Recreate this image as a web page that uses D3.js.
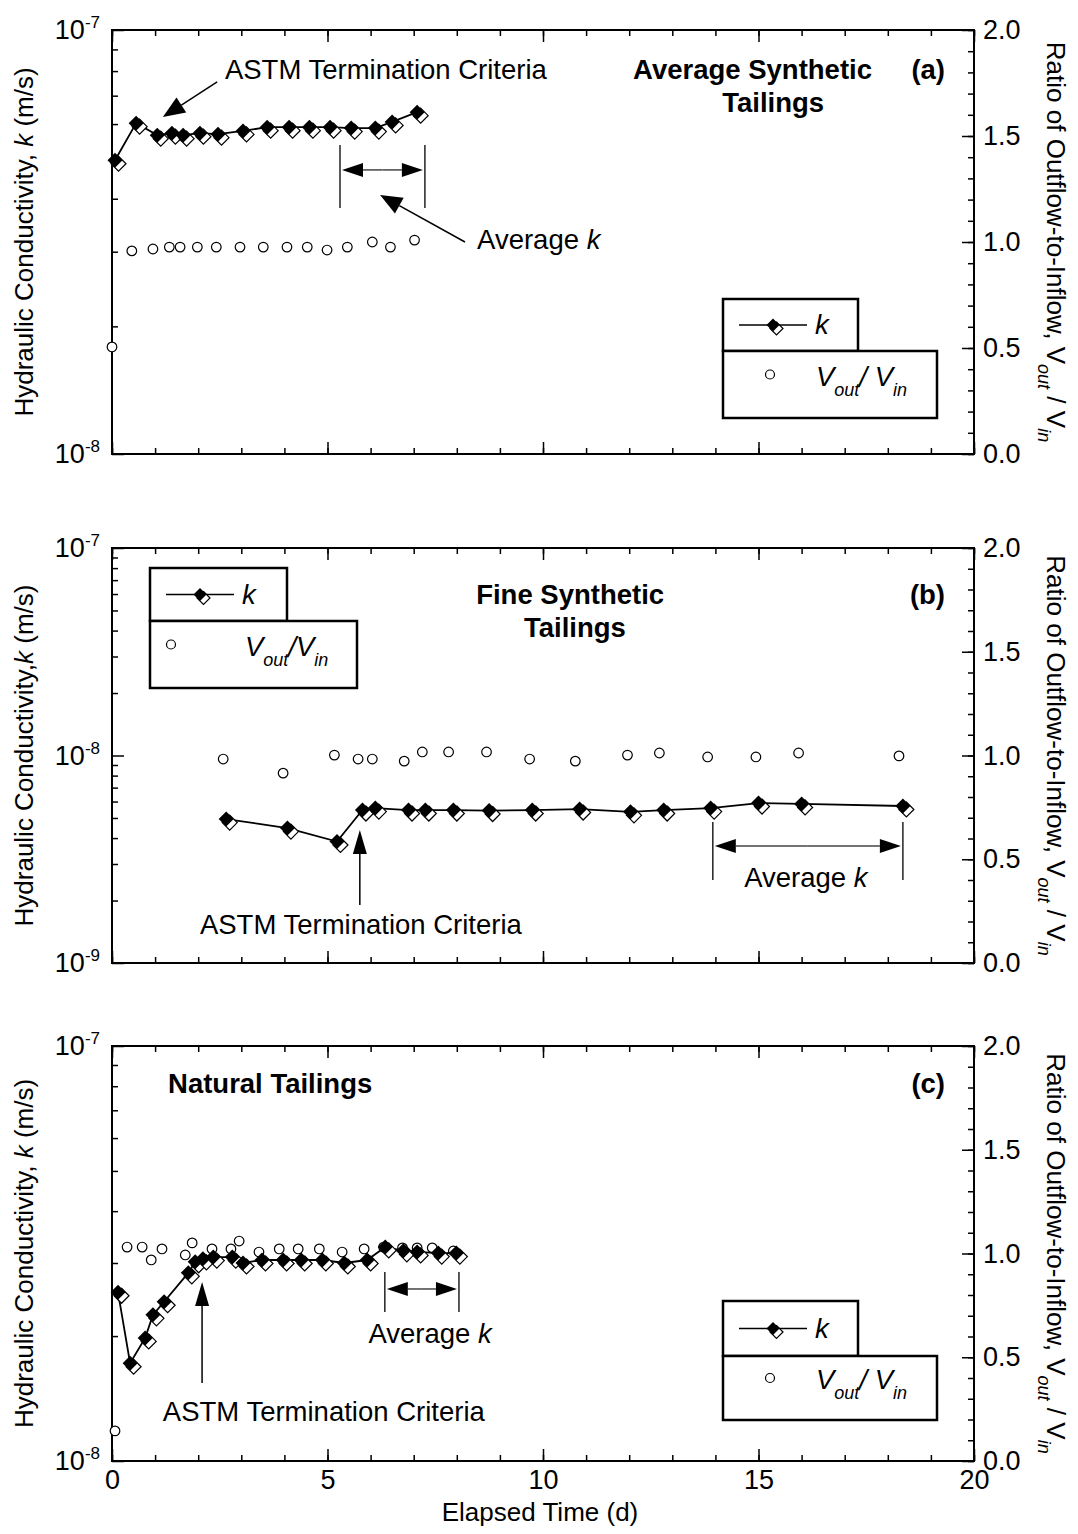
<!DOCTYPE html>
<html><head><meta charset="utf-8">
<script src="https://cdn.jsdelivr.net/npm/d3@7"></script>
<style>
body{margin:0;background:#fff}
svg{display:block}
text{font-family:"Liberation Sans",Arial,Helvetica,sans-serif;fill:#000}
</style>
</head><body>
<svg id="chart" width="1078" height="1534"></svg>
<script>
// ---------------- DATA ----------------
// Panel (a) Average Synthetic Tailings
const aKDays  = [0.07,0.56,1.05,1.39,1.65,2.04,2.46,3.04,3.60,4.11,4.58,5.06,5.55,6.11,6.50,7.08];
const aK      = [4.93e-8,6.03e-8,5.65e-8,5.71e-8,5.65e-8,5.71e-8,5.68e-8,5.78e-8,5.90e-8,5.90e-8,5.90e-8,5.90e-8,5.87e-8,5.87e-8,6.07e-8,6.40e-8];
const aRDays  = [0.0,0.46,0.95,1.33,1.58,1.98,2.42,2.97,3.51,4.06,4.53,4.99,5.46,6.04,6.46,7.02];
const aRatio  = [0.505,0.958,0.967,0.976,0.976,0.976,0.976,0.976,0.976,0.976,0.976,0.962,0.976,1.0,0.976,1.009];
// Panel (b) Fine Synthetic Tailings
const bKDays  = [2.65,4.07,5.22,5.81,6.11,6.88,7.27,7.92,8.75,9.75,10.85,12.03,12.8,13.89,15.0,16.0,18.35];
const bK      = [4.94e-9,4.47e-9,3.85e-9,5.46e-9,5.58e-9,5.46e-9,5.46e-9,5.46e-9,5.43e-9,5.46e-9,5.52e-9,5.35e-9,5.46e-9,5.58e-9,5.90e-9,5.84e-9,5.71e-9];
const bRDays  = [2.58,3.97,5.16,5.71,6.04,6.78,7.2,7.81,8.69,9.69,10.75,11.96,12.7,13.82,14.94,15.93,18.26];
const bRatio  = [0.983,0.915,1.002,0.983,0.983,0.973,1.017,1.017,1.017,0.983,0.973,1.002,1.012,0.993,0.993,1.012,0.998];
// Panel (c) Natural Tailings
const cKDays  = [0.14,0.42,0.77,0.95,1.21,1.77,1.93,2.11,2.35,2.79,3.04,3.48,3.97,4.39,4.88,5.39,5.92,6.34,6.76,7.08,7.57,7.99];
const cK      = [2.55e-8,1.72e-8,1.98e-8,2.25e-8,2.42e-8,2.84e-8,3.02e-8,3.07e-8,3.10e-8,3.10e-8,3.00e-8,3.05e-8,3.05e-8,3.05e-8,3.05e-8,3.00e-8,3.05e-8,3.28e-8,3.21e-8,3.19e-8,3.17e-8,3.17e-8];
const cRDays  = [0.07,0.35,0.70,0.91,1.16,1.70,1.86,2.32,2.76,2.95,3.41,3.88,4.32,4.81,5.34,5.85,6.30,6.74,7.08,7.43,7.92];
const cRatio  = [0.145,1.031,1.031,0.969,1.022,0.993,1.051,1.022,1.022,1.060,1.007,1.022,1.022,1.022,1.007,1.022,1.031,1.027,1.027,1.027,1.012];

const xMajorTicks = [0,5,10,15,20];
const xMinorTicks = d3.range(0,21,1);
const ratioMajorTicks = [0,0.5,1.0,1.5,2.0];
const ratioMinorTicks = d3.range(0,2.0001,0.1);

// ---------------- LAYOUT ----------------
const FS = 27.5;
const TFS = 27;
const svg = d3.select('#chart');
const x = d3.scaleLinear().domain([0,20]).range([112,974]);

const panels = [
  {tag:'(a)', top:30, bottom:454, kDomain:[1e-8,1e-7], kDays:aKDays, k:aK, rDays:aRDays, r:aRatio,
   ylabel:['Hydraulic Conductivity, ','k',' (m/s)'], showX:false,
   title:[{t:'Average Synthetic', d:12.09, r:1.769, anchor:'start'},{t:'Tailings', d:15.34, r:1.613, anchor:'middle'}],
   legend:{x:723, y1:299, y2:351, y3:418, w1:135, w2:214, vText:['V','out','/ V','in']},
   astm:{text:{d:2.62,r:1.769}, arrow:[2.44,1.755,1.18,1.590]},
   avg:{d1:5.29,d2:7.26,r1:1.458,r2:1.160,ra:1.340, text:{d:8.47,r:0.967,anchor:'start'}, arrow:[8.19,1.0,6.22,1.222]}},
  {tag:'(b)', top:548, bottom:963, kDomain:[1e-9,1e-7], kDays:bKDays, k:bK, rDays:bRDays, r:bRatio,
   ylabel:['Hydraulic Conductivity,','k',' (m/s)'], showX:false,
   title:[{t:'Fine Synthetic', d:10.63, r:1.730, anchor:'middle'},{t:'Tailings', d:10.74, r:1.571, anchor:'middle'}],
   legend:{x:150, y1:568, y2:621, y3:688, w1:137, w2:207, vText:['V','out','/V','in']},
   astm:{text:{d:2.04,r:0.140}, varrow:[5.75,0.280,0.641]},
   avg:{d1:13.94,d2:18.35,r1:0.680,r2:0.400,ra:0.564, text:{d:16.1,r:0.366,anchor:'middle'}}},
  {tag:'(c)', top:1046, bottom:1461, kDomain:[1e-8,1e-7], kDays:cKDays, k:cK, rDays:cRDays, r:cRatio,
   ylabel:['Hydraulic Conductivity, ','k',' (m/s)'], showX:true,
   title:[{t:'Natural Tailings', d:1.30, r:1.773, anchor:'start'}],
   legend:{x:723, y1:1301, y2:1356, y3:1420, w1:135, w2:214, vText:['V','out','/ V','in']},
   astm:{text:{d:1.18,r:0.193}, varrow:[2.09,0.376,0.863]},
   avg:{d1:6.33,d2:8.05,r1:0.911,r2:0.718,ra:0.829, text:{d:7.38,r:0.569,anchor:'middle'}}}
];

function arrowHead(g, x1,y1,x2,y2,len,hw,col){
  const a = Math.atan2(y2-y1,x2-x1);
  const bx = x2-len*Math.cos(a), by = y2-len*Math.sin(a);
  g.append('line').attr('x1',x1).attr('y1',y1).attr('x2',bx).attr('y2',by)
    .attr('stroke',col||'#000').attr('stroke-width',1.5);
  const px = -Math.sin(a)*hw, py = Math.cos(a)*hw;
  g.append('path').attr('d',`M${x2},${y2}L${bx+px},${by+py}L${bx-px},${by-py}Z`).attr('fill','#000');
}

function diamond(g, cx, cy, s){
  g.append('path').attr('d',`M${cx+3.5},${cy+3.5-s}L${cx+3.5+s},${cy+3.5}L${cx+3.5},${cy+3.5+s}L${cx+3.5-s},${cy+3.5}Z`)
    .attr('fill','#fff').attr('stroke','#000').attr('stroke-width',1.2);
  g.append('path').attr('d',`M${cx},${cy-s}L${cx+s},${cy}L${cx},${cy+s}L${cx-s},${cy}Z`).attr('fill','#000');
}

function styleAxis(sel){
  sel.select('.domain').remove();
  sel.selectAll('line').attr('stroke','#000').attr('stroke-width',1.5);
  sel.selectAll('text').attr('font-size',TFS).attr('font-family','"Liberation Sans",Arial,sans-serif').attr('fill','#000');
}

panels.forEach(p => {
  const g = svg.append('g');
  const yk = d3.scaleLog().domain(p.kDomain).range([p.bottom,p.top]);
  const yr = d3.scaleLinear().domain([0,2]).range([p.bottom,p.top]);

  // x axes (bottom and top), ticks inside
  g.append('g').attr('transform',`translate(0,${p.bottom})`)
    .call(d3.axisBottom(x).tickValues(xMinorTicks).tickSize(-6).tickFormat('')).call(styleAxis);
  g.append('g').attr('transform',`translate(0,${p.bottom})`)
    .call(d3.axisBottom(x).tickValues(xMajorTicks).tickSize(-12).tickPadding(9)
      .tickFormat(p.showX ? d3.format('d') : '')).call(styleAxis);
  g.append('g').attr('transform',`translate(0,${p.top})`)
    .call(d3.axisTop(x).tickValues(xMinorTicks).tickSize(-6).tickFormat('')).call(styleAxis);
  g.append('g').attr('transform',`translate(0,${p.top})`)
    .call(d3.axisTop(x).tickValues(xMajorTicks).tickSize(-12).tickFormat('')).call(styleAxis);

  // left log axis
  const lo = Math.round(Math.log10(p.kDomain[0])), hi = Math.round(Math.log10(p.kDomain[1]));
  const kMajor = d3.range(lo,hi+1).map(e=>Math.pow(10,e));
  const kMinor = [];
  for(let e=lo;e<hi;e++) for(let m=2;m<=9;m++) kMinor.push(m*Math.pow(10,e));
  g.append('g').attr('transform','translate(112,0)')
    .call(d3.axisLeft(yk).tickValues(kMinor).tickSize(-6).tickFormat('')).call(styleAxis);
  g.append('g').attr('transform','translate(112,0)')
    .call(d3.axisLeft(yk).tickValues(kMajor).tickSize(-12).tickFormat('')).call(styleAxis);
  kMajor.forEach(v=>{
    const t = g.append('text').attr('x',100).attr('y',yk(v)+9).attr('text-anchor','end').attr('font-size',TFS);
    t.append('tspan').text('10');
    t.append('tspan').attr('font-size',17).attr('dy',-11).text('-'+Math.abs(Math.log10(v)).toFixed(0));
  });

  // right ratio axis
  g.append('g').attr('transform','translate(974,0)')
    .call(d3.axisRight(yr).tickValues(ratioMinorTicks).tickSize(-6).tickFormat('')).call(styleAxis);
  g.append('g').attr('transform','translate(974,0)')
    .call(d3.axisRight(yr).tickValues(ratioMajorTicks).tickSize(-12).tickPadding(9).tickFormat(d3.format('.1f'))).call(styleAxis);

  // frame
  g.append('rect').attr('x',112).attr('y',p.top).attr('width',974-112).attr('height',p.bottom-p.top)
    .attr('fill','none').attr('stroke','#000').attr('stroke-width',2);

  // left y title
  const cy = (p.top+p.bottom)/2;
  const lt = g.append('text').attr('transform',`translate(33,${cy}) rotate(-90)`).attr('text-anchor','middle').attr('font-size',26);
  lt.append('tspan').text(p.ylabel[0]);
  lt.append('tspan').attr('font-style','italic').text(p.ylabel[1]);
  lt.append('tspan').text(p.ylabel[2]);
  // right y title
  const rt = g.append('text').attr('transform',`translate(1047,${cy}) rotate(90)`).attr('text-anchor','middle').attr('font-size',26);
  rt.append('tspan').text('Ratio of Outflow-to-Inflow, V');
  rt.append('tspan').attr('font-size',18).attr('font-style','italic').attr('dy',9).text('out');
  rt.append('tspan').attr('dy',-9).text(' / V');
  rt.append('tspan').attr('font-size',18).attr('font-style','italic').attr('dy',9).text('in');

  // data: ratio circles
  g.append('g').selectAll('circle').data(p.rDays.map((d,i)=>[d,p.r[i]])).join('circle')
    .attr('cx',d=>x(d[0])).attr('cy',d=>yr(d[1])).attr('r',4.8)
    .attr('fill','#fff').attr('stroke','#000').attr('stroke-width',1.2);
  // k line
  const kPts = p.kDays.map((d,i)=>[d,p.k[i]]);
  g.append('path').datum(kPts).attr('d',d3.line().x(d=>x(d[0])).y(d=>yk(d[1])))
    .attr('fill','none').attr('stroke','#000').attr('stroke-width',1.8);
  const dg = g.append('g');
  kPts.forEach(d=>diamond(dg, x(d[0]), yk(d[1]), 7.5));

  // titles
  p.title.forEach(t=>{
    g.append('text').attr('x',x(t.d)).attr('y',yr(t.r)).attr('text-anchor',t.anchor)
      .attr('font-size',FS).attr('font-weight','bold').text(t.t);
  });
  g.append('text').attr('x',945).attr('y',yr(p.title[0].r)).attr('text-anchor','end')
    .attr('font-size',FS).attr('font-weight','bold').text(p.tag);

  // ASTM annotation
  g.append('text').attr('x',x(p.astm.text.d)).attr('y',yr(p.astm.text.r)).attr('font-size',FS).text('ASTM Termination Criteria');
  if(p.astm.arrow){
    const a=p.astm.arrow;
    arrowHead(g, x(a[0]),yr(a[1]),x(a[2]),yr(a[3]),22,9);
  } else {
    const a=p.astm.varrow;
    arrowHead(g, x(a[0]),yr(a[1]),x(a[0]),yr(a[2]),24,7);
  }
  // Average k bracket
  const av=p.avg;
  [av.d1,av.d2].forEach(d=>{
    g.append('line').attr('x1',x(d)).attr('x2',x(d)).attr('y1',yr(av.r1)).attr('y2',yr(av.r2))
      .attr('stroke','#222').attr('stroke-width',1.5);
  });
  const mx=(x(av.d1)+x(av.d2))/2, ay=yr(av.ra);
  arrowHead(g, mx, ay, x(av.d1)+2, ay, 21, 7, '#444');
  arrowHead(g, mx, ay, x(av.d2)-2, ay, 21, 7, '#444');
  const at = g.append('text').attr('x',x(av.text.d)).attr('y',yr(av.text.r)).attr('text-anchor',av.text.anchor).attr('font-size',FS);
  at.append('tspan').text('Average ');
  at.append('tspan').attr('font-style','italic').text('k');
  if(av.arrow){
    const a=av.arrow;
    arrowHead(g, x(a[0]),yr(a[1]),x(a[2]),yr(a[3]),22,9);
  }

  // legend
  const L=p.legend;
  const lg=g.append('g');
  lg.append('rect').attr('x',L.x).attr('y',L.y1).attr('width',L.w1).attr('height',L.y2-L.y1)
    .attr('fill','#fff').attr('stroke','#000').attr('stroke-width',2.5);
  lg.append('rect').attr('x',L.x).attr('y',L.y2).attr('width',L.w2).attr('height',L.y3-L.y2)
    .attr('fill','#fff').attr('stroke','#000').attr('stroke-width',2.5);
  const ly=(L.y1+L.y2)/2;
  lg.append('line').attr('x1',L.x+16).attr('x2',L.x+84).attr('y1',ly).attr('y2',ly).attr('stroke','#000').attr('stroke-width',1.5);
  diamond(lg, L.x+50, ly, 6.5);
  lg.append('text').attr('x',L.x+92).attr('y',ly+9).attr('font-size',FS).attr('font-style','italic').text('k');
  const ly2=(L.y2+L.y3)/2;
  lg.append('circle').attr('cx',L.x+ (L.x<500?21:47)).attr('cy',ly2-10).attr('r',4.5)
    .attr('fill','#fff').attr('stroke','#000').attr('stroke-width',1.2);
  const vt=lg.append('text').attr('x',L.x+(L.x<500?95:93)).attr('y',ly2+1).attr('font-size',FS).attr('font-style','italic');
  vt.append('tspan').text(L.vText[0]);
  vt.append('tspan').attr('font-size',18).attr('dy',10).text(L.vText[1]);
  vt.append('tspan').attr('dy',-10).text(L.vText[2]);
  vt.append('tspan').attr('font-size',18).attr('dy',10).text(L.vText[3]);
});

// x axis title
svg.append('text').attr('x',540).attr('y',1521).attr('text-anchor','middle').attr('font-size',26).text('Elapsed Time (d)');
</script>
</body></html>
